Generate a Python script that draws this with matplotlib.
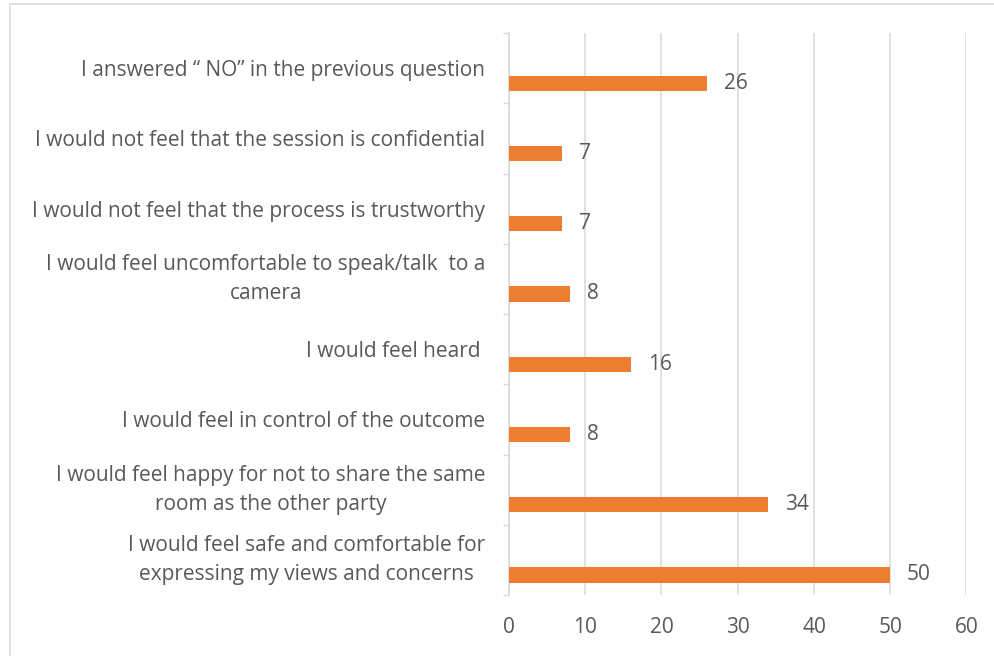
import matplotlib
matplotlib.use("Agg")
import matplotlib.pyplot as plt
from matplotlib.lines import Line2D

plt.rcParams['font.family'] = ['Open Sans', 'DejaVu Sans']

categories = [
    "I answered \u201c NO\u201d in the previous question",
    "I would not feel that the session is confidential",
    "I would not feel that the process is trustworthy",
    "I would feel uncomfortable to speak/talk  to a\ncamera",
    "I would feel heard ",
    "I would feel in control of the outcome",
    "I would feel happy for not to share the same\nroom as the other party",
    "I would feel safe and comfortable for\nexpressing my views and concerns",
]
values = [26, 7, 7, 8, 16, 8, 34, 50]
xticks = [0, 10, 20, 30, 40, 50, 60]

TEXT = '#595959'
GRID = '#D9D9D9'
BAR = '#ED7D31'
FS = 15

W, H = 995, 656
fig = plt.figure(figsize=(W / 100, H / 100), dpi=100)
ax = fig.add_axes([509 / W, 1 - 595 / H, (966.5 - 509) / W, (595 - 33) / H])

n = len(categories)
ypos = [n - 1 - i for i in range(n)]
bar_h = 0.215
bar_y = [y - 0.215 for y in ypos]
ax.barh(bar_y, values, height=bar_h, color=BAR, zorder=3)

for yb, v in zip(bar_y, values):
    ax.annotate(str(v), xy=(v, yb), xytext=(12, 0), textcoords='offset points',
                va='center', ha='left', fontsize=FS, color=TEXT)

ax.set_xlim(0, 60)
ax.set_ylim(-0.5, n - 0.5)
ax.set_xticks(xticks)
ax.set_xticklabels([str(t) for t in xticks], fontsize=FS, color=TEXT)
ax.tick_params(axis='x', length=0, pad=16)

ax.set_yticks(ypos)
ax.set_yticklabels(categories, fontsize=FS, color=TEXT, multialignment='center',
                   linespacing=1.5)
for lbl in ax.get_yticklabels():
    if '\n' in lbl.get_text():
        lbl.set_va('center')
ax.tick_params(axis='y', which='major', length=0, pad=17)
ax.set_yticks([y + 0.5 for y in range(-1, n)], minor=True)
ax.tick_params(axis='y', which='minor', length=4, width=1, color=GRID, direction='out')

ax.grid(axis='x', color=GRID, linewidth=1.1, zorder=0)
for s in ['top', 'right', 'bottom']:
    ax.spines[s].set_visible(False)
ax.spines['left'].set_color(GRID)
ax.spines['left'].set_linewidth(1.1)

# chart frame
fig.add_artist(Line2D([10 / W, 10 / W], [0, 1 - 4 / H], transform=fig.transFigure, color=GRID, linewidth=1.1))
fig.add_artist(Line2D([10 / W, 1], [1 - 4 / H, 1 - 4 / H], transform=fig.transFigure, color=GRID, linewidth=1.1))

fig.savefig('out.png', dpi=100, facecolor='white')
